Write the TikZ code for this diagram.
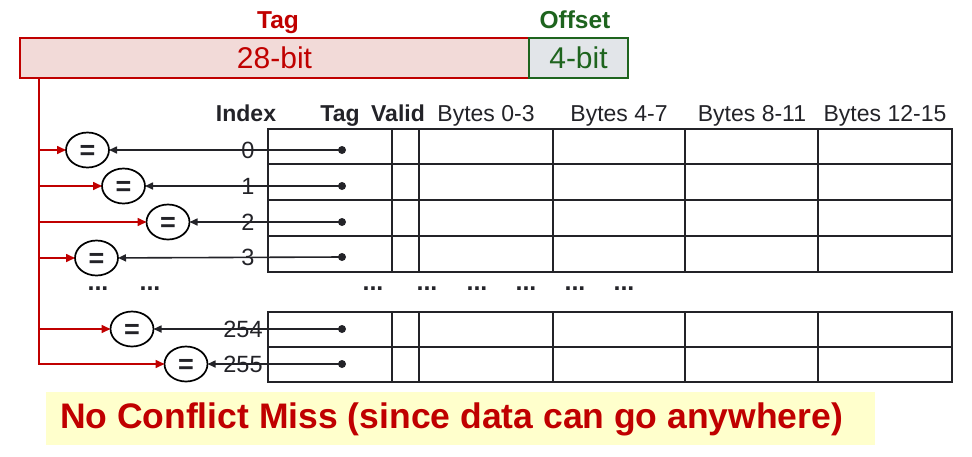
\documentclass[tikz,border=0pt]{standalone}
\usepackage{fontspec}
\setmainfont{Liberation Sans}
\usetikzlibrary{arrows.meta,shapes.geometric}
\definecolor{dred}{RGB}{192,0,0}
\definecolor{pinkfill}{RGB}{242,218,216}
\definecolor{dgreen}{RGB}{30,100,30}
\definecolor{greyfill}{RGB}{226,229,233}
\definecolor{ink}{RGB}{35,35,40}
\definecolor{yel}{RGB}{255,255,204}
\begin{document}
\begin{tikzpicture}[x=1pt,y=-1pt,
  every node/.style={inner sep=0pt,outer sep=0pt},
  tbl/.style={draw=ink,line width=2.8pt},
  hdr/.style={anchor=base,text=ink,font=\bfseries\fontsize{23}{27}\selectfont},
  hdrn/.style={anchor=base,text=ink,font=\fontsize{23}{27}\selectfont},
  idx/.style={text=ink,font=\fontsize{23.5}{27}\selectfont},
  dotst/.style={circle,fill=ink,minimum size=8pt},
  eqst/.style={ellipse,draw=black,line width=1.7pt,minimum width=43pt,minimum height=35pt,
     text=ink,font=\bfseries\fontsize{27}{27}\selectfont,text height=18.9pt,text depth=0pt},
  blkarr/.style={draw=ink,line width=1.6pt,-{Triangle[length=8pt,width=7pt]}},
  redarr/.style={draw=dred,line width=1.6pt,-{Triangle[length=9pt,width=8pt]}},
  ell/.style={anchor=base,text=ink,font=\bfseries\fontsize{25}{27}\selectfont}
]
\useasboundingbox (0,0) rectangle (972,456);
% address boxes
\node[draw=dred,line width=2pt,fill=pinkfill,minimum width=509pt,minimum height=40pt,anchor=north west,
  text=dred,font=\fontsize{30}{36}\selectfont] (tagbox) at (20,38) {28-bit};
\node[draw=dgreen,line width=2pt,fill=greyfill,minimum width=99pt,minimum height=40pt,anchor=north west,
  text=dgreen,font=\fontsize{30}{36}\selectfont] (offbox) at (529,38) {4-bit};
\node[anchor=base,text=dred,font=\bfseries\fontsize{24.5}{28}\selectfont] (taglbl) at (278,28) {Tag};
\node[anchor=base,text=dgreen,font=\bfseries\fontsize{24.5}{28}\selectfont] (offlbl) at (575,28) {Offset};
% headers
\node[hdr] (hidx) at (246,121) {Index};
\node[hdr] (htag) at (340,121) {Tag};
\node[hdr] (hval) at (398,121) {Valid};
\node[hdrn] (hb0) at (486,121) {Bytes 0-3};
\node[hdrn] (hb1) at (619,121) {Bytes 4-7};
\node[hdrn] (hb2) at (752,121) {Bytes 8-11};
\node[hdrn] (hb3) at (885,121) {Bytes 12-15};
% index labels
\node[idx] (i0) at (248,150) {0};
\node[idx] (i1) at (248,186) {1};
\node[idx] (i2) at (248,222) {2};
\node[idx] (i3) at (248,257) {3};
\node[idx] (i4) at (243,329) {254};
\node[idx] (i5) at (243,364) {255};
% table
\draw[tbl] (268,129) rectangle (952,272);
\foreach \yy in {164,200,236} \draw[tbl] (268,\yy) -- (952,\yy);
\foreach \xx in {392,419,553,685,818} \draw[tbl] (\xx,129) -- (\xx,272);
\draw[tbl] (268,312) rectangle (952,382);
\draw[tbl] (268,347) -- (952,347);
\foreach \xx in {392,419,553,685,818} \draw[tbl] (\xx,312) -- (\xx,382);
% ellipses
\node[ell] (d1) at (98,290) {...};
\node[ell] (d2) at (150,290) {...};
\node[ell] (d3) at (373,290) {...};
\node[ell] (d4) at (427,290) {...};
\node[ell] (d5) at (477,290) {...};
\node[ell] (d6) at (526,290) {...};
\node[ell] (d7) at (575,290) {...};
\node[ell] (d8) at (624,290) {...};
% comparators
\node[eqst] (e0) at (87.5,150) {=};
\node[eqst] (e1) at (123.5,186) {=};
\node[eqst] (e2) at (168,222) {=};
\node[eqst] (e3) at (96.5,258) {=};
\node[eqst] (e4) at (132,329) {=};
\node[eqst] (e5) at (186,364) {=};
% tag dots
\node[dotst] (t0) at (342,150) {};
\node[dotst] (t1) at (342,186) {};
\node[dotst] (t2) at (342,222) {};
\node[dotst] (t3) at (342,257) {};
\node[dotst] (t4) at (342,329) {};
\node[dotst] (t5) at (342,364) {};
\foreach \k in {0,...,5} \draw[blkarr] (t\k.center) -- (e\k);
% red trunk
\coordinate (trk) at (39,78);
\coordinate (b0) at (39,150);
\coordinate (b1) at (39,186);
\coordinate (b2) at (39,222);
\coordinate (b3) at (39,258);
\coordinate (b4) at (39,329);
\coordinate (b5) at (39,364);
\draw[redarr] (trk) -- (b5) -- (e5);
\foreach \k in {0,...,4} \draw[redarr] (b\k) -- (e\k);
% note
\node[fill=yel,minimum width=829pt,minimum height=53pt,anchor=north west] (note) at (46,392) {};
\node[anchor=base west,text=dred,font=\bfseries\fontsize{35.5}{40}\selectfont] (notetxt) at (60,428) {No Conflict Miss (since data can go anywhere)};
\end{tikzpicture}
\end{document}
